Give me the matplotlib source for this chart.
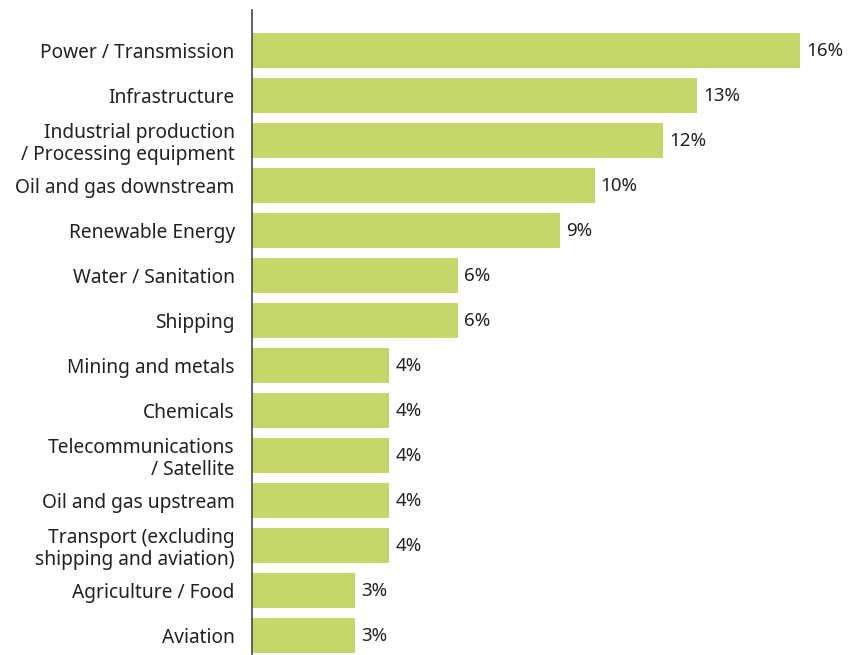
import matplotlib.pyplot as plt

categories = [
    "Power / Transmission",
    "Infrastructure",
    "Industrial production\n/ Processing equipment",
    "Oil and gas downstream",
    "Renewable Energy",
    "Water / Sanitation",
    "Shipping",
    "Mining and metals",
    "Chemicals",
    "Telecommunications\n/ Satellite",
    "Oil and gas upstream",
    "Transport (excluding\nshipping and aviation)",
    "Agriculture / Food",
    "Aviation",
]
shares = [16, 13, 12, 10, 9, 6, 6, 4, 4, 4, 4, 4, 3, 3]

bar_color = "#c5d66b"
text_color = "#222222"

plt.rcParams['font.family'] = ['Noto Sans', 'DejaVu Sans']

fig = plt.figure(figsize=(8.57, 6.55), dpi=100)
ax = fig.add_axes([252 / 857, 0, 1 - 252 / 857, 645 / 655])

y = list(range(len(categories)))
ax.barh(y, shares, height=0.78, color=bar_color)

for yi, v in zip(y, shares):
    ax.annotate(f"{v}%", (v, yi), xytext=(4.5, 0), textcoords="offset points",
                ha="left", va="center", fontsize=13.5, color=text_color)

ax.set_yticks(y)
ax.set_yticklabels(categories, fontsize=13.8, color=text_color, linespacing=1.15)
ax.tick_params(axis="y", length=0, pad=12.5)
ax.set_xticks([])

ax.set_xlim(0, (857 - 252) / 34.25)
ax.set_ylim(13.43, -0.9)

for s in ["top", "right", "bottom"]:
    ax.spines[s].set_visible(False)
ax.spines["left"].set_color("#555555")
ax.spines["left"].set_linewidth(1.3)

fig.savefig("out.png", dpi=100)
